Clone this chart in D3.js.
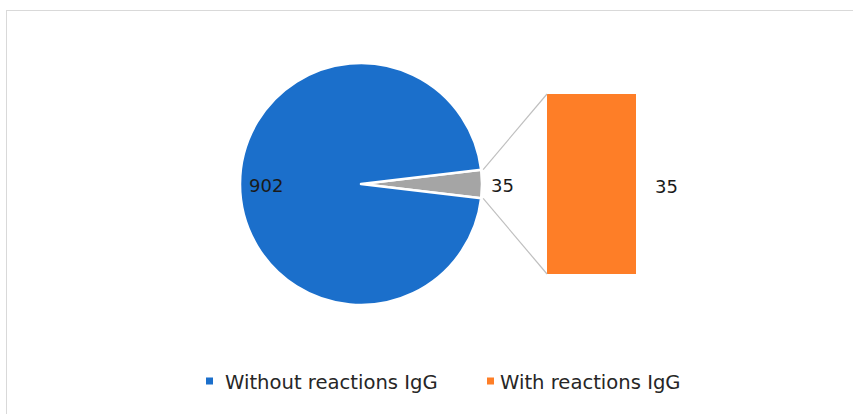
<!DOCTYPE html>
<html>
<head>
<meta charset="utf-8">
<script src="https://cdn.jsdelivr.net/npm/d3@7"></script>
<style>
  html, body { margin: 0; padding: 0; background: #fff; }
  svg { display: block; font-family: "DejaVu Sans", "Open Sans", sans-serif; }
</style>
</head>
<body>
<svg id="chart" width="853" height="414"></svg>
<script>
// Pie slices: the main category and the aggregated "other" slice that is broken out into the bar
const pieLabels = ["Other", "Without reactions IgG"];
const pieValues = [35, 902];
// Bar (breakout) series
const barLabels = ["With reactions IgG"];
const barValues = [35];
// Legend entries
const legendLabels = ["Without reactions IgG", "With reactions IgG"];

const colors = {
  "Without reactions IgG": "#1B6FCB",
  "Other": "#A5A5A5",
  "With reactions IgG": "#FE7E27"
};
const legendColors = ["#1B6FCB", "#FE7E27"];

const svg = d3.select("#chart");

// Chart area frame
svg.append("rect")
  .attr("x", 6.5).attr("y", 10.5)
  .attr("width", 860).attr("height", 420)
  .attr("fill", "none")
  .attr("stroke", "#D9D9D9")
  .attr("stroke-width", 1);

// ---- Pie ----
const cx = 361, cy = 184, r = 121;
const total = d3.sum(pieValues);
const half = Math.PI * pieValues[0] / total;
const pie = d3.pie().sort(null)
  .startAngle(Math.PI / 2 - half)
  .endAngle(Math.PI / 2 - half + 2 * Math.PI);
const arcs = pie(pieValues);
const arc = d3.arc().innerRadius(0).outerRadius(r);

const gPie = svg.append("g").attr("transform", `translate(${cx},${cy})`);
gPie.selectAll("path")
  .data(arcs)
  .join("path")
  .attr("d", arc)
  .attr("fill", (d, i) => colors[pieLabels[i]])
  .attr("stroke", "#fff")
  .attr("stroke-width", 2.5)
  .attr("stroke-linejoin", "round");

// ---- Bar ----
const barX = d3.scaleBand().domain(barLabels).range([547, 636]).padding(0);
const barY = d3.scaleLinear().domain([0, d3.sum(barValues)]).range([274, 94]);

const gBar = svg.append("g");
gBar.selectAll("rect")
  .data(barValues)
  .join("rect")
  .attr("x", (d, i) => barX(barLabels[i]))
  .attr("width", barX.bandwidth())
  .attr("y", d => barY(d))
  .attr("height", d => barY(0) - barY(d))
  .attr("fill", (d, i) => colors[barLabels[i]]);

// Connector lines from the "other" slice to the bar
const otherArc = arcs[0];
const pt = a => [cx + (r + 2) * Math.sin(a), cy - (r + 2) * Math.cos(a)];
const topPt = pt(otherArc.startAngle);
const botPt = pt(otherArc.endAngle);
const barLeft = barX(barLabels[0]);
svg.append("g")
  .attr("stroke", "#BFBFBF")
  .attr("stroke-width", 1.2)
  .selectAll("line")
  .data([[topPt, [barLeft, barY(barValues[0])]], [botPt, [barLeft, barY(0)]]])
  .join("line")
  .attr("x1", d => d[0][0]).attr("y1", d => d[0][1])
  .attr("x2", d => d[1][0]).attr("y2", d => d[1][1]);

// ---- Data labels ----
const labelStyle = sel => sel
  .attr("font-size", 18)
  .attr("fill", "#1a1a1a")
  .attr("dominant-baseline", "central");

// Main slice value, inside near the left edge
svg.append("text").call(labelStyle)
  .attr("x", cx - r + 9).attr("y", cy + 1)
  .text(pieValues[1]);
// Other slice value, just outside the pie
svg.append("text").call(labelStyle)
  .attr("x", cx + r + 9).attr("y", cy + 1)
  .text(pieValues[0]);
// Bar value, right of the bar
svg.append("text").call(labelStyle)
  .attr("x", barX(barLabels[0]) + barX.bandwidth() + 19)
  .attr("y", (barY(barValues[0]) + barY(0)) / 2 + 2)
  .text(barValues[0]);

// ---- Legend ----
const legendSwatchX = [206, 487];
const legendTextX = [225, 500];
const legendY = 381;
const gLeg = svg.append("g");
const items = gLeg.selectAll("g")
  .data(legendLabels)
  .join("g");
items.append("rect")
  .attr("x", (d, i) => legendSwatchX[i]).attr("y", legendY - 3.5)
  .attr("width", 7).attr("height", 7)
  .attr("fill", (d, i) => legendColors[i]);
items.append("text")
  .attr("x", (d, i) => legendTextX[i]).attr("y", legendY + 1)
  .attr("dominant-baseline", "central")
  .attr("font-size", 19.6)
  .attr("fill", "#262626")
  .text(d => d);
</script>
</body>
</html>
